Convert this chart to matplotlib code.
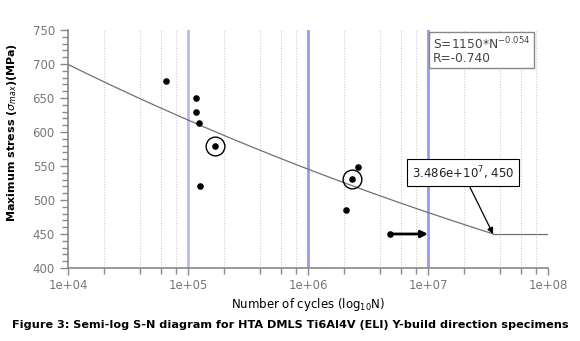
import numpy as np
import matplotlib
matplotlib.use("Agg")
import matplotlib.pyplot as plt

# data
cycles = [6.5e4, 1.17e5, 1.17e5, 1.24e5, 1.67e5, 1.25e5, 2.63e6, 2.31e6, 2.07e6]
stress = [675, 650, 630, 613, 580, 520, 549, 531, 486]
circled_n = [1.67e5, 2.31e6]
circled_s = [580, 531]
runout_n = [4.8e6]
runout_s = [450]
fit_a, fit_b = 1150, -0.054
endurance = 450
knee_n = 3.486e7
x_ticks = [1e4, 1e5, 1e6, 1e7, 1e8]
x_ticklabels = ["1e+04", "1e+05", "1e+06", "1e+07", "1e+08"]
y_ticks = [400, 450, 500, 550, 600, 650, 700, 750]

fig = plt.figure(figsize=(5.8, 3.41), dpi=100)
ax = fig.add_axes([68/580, 1-268/341, 480/580, 238/341])
ax.set_xscale("log")
ax.set_xlim(1e4, 1e8)
ax.set_ylim(400, 750)

# grid
minor = [m * 10**e for e in range(4, 8) for m in (2, 4, 6, 8)]
for xv in minor:
    ax.axvline(xv, color="#cccccc", lw=0.8, ls=(0, (1, 1.5)), zorder=0)
for xv, c in zip([1e5, 1e6, 1e7], ["#b8b8f4", "#9a9ae8", "#9a9ae8"]):
    ax.axvline(xv, color=c, lw=2, zorder=1)

# fit line
n = np.logspace(4, np.log10(knee_n), 200)
ax.plot(n, fit_a * n**fit_b, color="#707070", lw=0.9, zorder=2)
ax.plot([knee_n, 1e8], [endurance, endurance], color="#707070", lw=0.9, zorder=2)

# points
ax.scatter(cycles, stress, s=14, color="black", zorder=4)
ax.scatter(runout_n, runout_s, s=14, color="black", zorder=4)
ax.plot(circled_n, circled_s, ls="none", marker="o", ms=13.5, mfc="none",
        mec="black", mew=1.0, zorder=4)

# run-out arrow
ax.annotate("", xy=(1e7, runout_s[0]), xytext=(runout_n[0], runout_s[0]),
            arrowprops=dict(arrowstyle="-|>", color="black", lw=2, mutation_scale=10,
                            shrinkA=0, shrinkB=0), zorder=5)

# knee annotation
ax.annotate("3.486e+10$^7$, 450",
            xy=(knee_n, endurance), xytext=(1.95e7, 540), ha="center", va="center",
            fontsize=8.5, color="#222222",
            bbox=dict(boxstyle="square,pad=0.4", fc="white", ec="black", lw=0.8),
            arrowprops=dict(arrowstyle="-|>", color="black", lw=0.9, mutation_scale=9,
                            shrinkA=0, shrinkB=0), zorder=6)

# equation box
ax.text(1.1e7, 742, "S=1150*N$^{-0.054}$\nR=-0.740", fontsize=8.8, color="#444444",
        va="top", ha="left", linespacing=0.95,
        bbox=dict(boxstyle="square,pad=0.3", fc="white", ec="#888888", lw=1.0), zorder=6)

# axes styling
for s in ("top", "right"):
    ax.spines[s].set_visible(False)
for s in ("left", "bottom"):
    ax.spines[s].set_color("#888888")
    ax.spines[s].set_linewidth(1.2)
ax.set_xticks(x_ticks)
ax.set_xticklabels(x_ticklabels)
ax.set_xticks(minor, minor=True)
ax.xaxis.set_minor_formatter(matplotlib.ticker.NullFormatter())
ax.set_yticks(y_ticks)
ax.set_yticks(np.arange(400, 751, 10), minor=True)
ax.tick_params(axis="both", which="major", colors="#888888", labelcolor="#777777",
               labelsize=8.5, length=6, width=1)
ax.tick_params(axis="both", which="minor", colors="#888888", length=4, width=1)
ax.tick_params(axis="x", which="major", length=5, pad=3)

ax.set_xlabel("Number of cycles (log$_{10}$N)", fontsize=8.5, labelpad=3)
ax.set_ylabel("Maximum stress ($\\sigma_{max}$)(MPa)", fontsize=8, fontweight="bold")
ax.yaxis.set_label_coords(-0.102, 0.57)

fig.text(0.5, 1-325/341, "Figure 3: Semi-log S-N diagram for HTA DMLS Ti6Al4V (ELI) Y-build direction specimens",
         ha="center", va="center", fontsize=8.1, fontweight="bold")

fig.savefig("out.png", dpi=100)
